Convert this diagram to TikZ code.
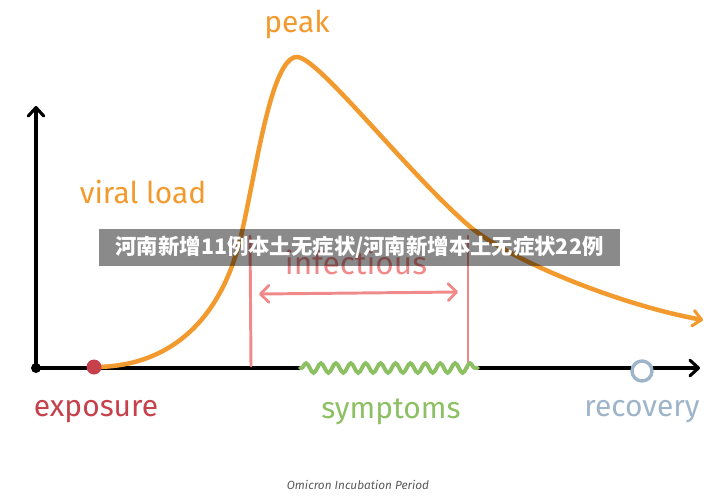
\documentclass[tikz,border=0pt]{standalone}
\usepackage{fontspec}
\setmainfont{Fira Sans}
\newfontfamily\cjk{Noto Sans CJK SC}
\usetikzlibrary{arrows.meta, decorations.pathmorphing, positioning}

\definecolor{loadorange}{HTML}{F39A2E}
\definecolor{infectpink}{HTML}{F08A8A}
\definecolor{symgreen}{HTML}{8CC063}
\definecolor{expred}{HTML}{C6414C}
\definecolor{recblue}{HTML}{9DB4C9}
\definecolor{capgray}{HTML}{5A5A5A}

\begin{document}
\begin{tikzpicture}[
        x=0.025cm, y=-0.025cm,
        barb/.style={-{Straight Barb[length=6pt, width=11pt, line width=2.2pt, round]}},
        axisline/.style={draw=black, line width=2.6pt, line cap=round},
        axis/.style={axisline, barb},
        load/.style={draw=loadorange, line width=3.2pt, line cap=round, barb},
        infect/.style={draw=infectpink, line width=2.1pt, line cap=round},
        symp/.style={draw=symgreen, line width=2.8pt, line cap=round, decorate,
            decoration={snake, segment length=10.6pt, amplitude=3.4pt, pre length=1pt, post length=1pt}},
        lbl/.style={font=\fontsize{21.3}{25}\selectfont, inner sep=0pt},
        banner/.style={fill=black, fill opacity=0.46, text opacity=1, text=white,
            minimum width=521*0.025cm, minimum height=37*0.025cm, inner sep=0pt,
            font=\cjk\bfseries\fontsize{15.2}{18}\selectfont}
    ]
        \useasboundingbox (0,0) rectangle (720,496);

        % axes
        \coordinate (origin) at (36,368);
        \coordinate (ytip) at (36,106);
        \coordinate (xtip) at (700,368);
        \coordinate (sympA) at (300,368);
        \coordinate (sympB) at (478,368);
        \draw[axis] (origin) -- (ytip);
        \draw[axisline] (origin) -- (sympA);
        \draw[axis] (sympB) -- (xtip);
        \fill[black] (origin) circle (5);

        % infectious window
        \coordinate (infL) at (250,236);
        \coordinate (infLb) at (251,366);
        \coordinate (infR) at (468,236);
        \coordinate (infRb) at (468,368);
        \draw[infect] (infL) -- (infLb);
        \draw[infect] (infR) -- (infRb);
        \coordinate (spanL) at (259,294);
        \coordinate (spanR) at (458,292);
        \draw[infect, {Straight Barb[length=6pt, width=12pt, line width=2pt, round]}-{Straight Barb[length=6pt, width=12pt, line width=2pt, round]}] (spanL) -- (spanR);
        \node[lbl, text=infectpink, font=\fontsize{22.5}{26}\selectfont] (infectious) at (356,262) {infectious};

        % viral load curve
        \coordinate (start) at (94,367);
        \coordinate (rise) at (240,240);
        \coordinate (top) at (297,57);
        \coordinate (fall) at (468,225);
        \coordinate (tail) at (703,320);
        \draw[load] (start) .. controls (170,367) and (220,320) .. (rise)
            .. controls (255,180) and (270,57) .. (top)
            .. controls (318,57) and (405,170) .. (fall)
            .. controls (508,260) and (620,305) .. (tail);

        % symptoms
        \draw[symp] (sympA) -- (sympB);

        % markers
        \fill[expred] (start) circle (7.5);
        \draw[recblue, line width=2.4pt, fill=white] (642,371) circle (10);

        % labels
        \node[lbl, text=loadorange] (peak) at (297,24) {peak};
        \node[lbl, text=loadorange] (viral) at (143,192) {viral load};
        \node[lbl, text=expred] (exposure) at (96,412) {exposure};
        \node[lbl, text=symgreen] (symptoms) at (391,412) {symptoms};
        \node[lbl, text=recblue] (recovery) at (642,412) {recovery};
        \node[text=capgray, font=\itshape\fontsize{8.4}{10}\selectfont] (caption) at (358,485) {Omicron Incubation Period};

        % overlay banner
        \node[banner] (headline) at (359.5,247.5) {河南新增11例本土无症状/河南新增本土无症状22例};
\end{tikzpicture}
\end{document}
